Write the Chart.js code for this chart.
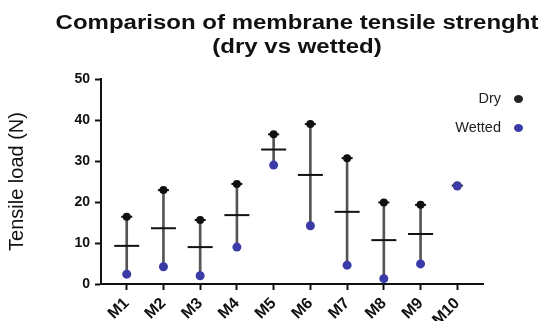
<!DOCTYPE html>
<html>
<head>
<meta charset="utf-8">
<script src="https://cdn.jsdelivr.net/npm/chart.js@4.4.1/dist/chart.umd.min.js"></script>
<style>
  html, body { margin: 0; padding: 0; background: #fff; }
  #wrap { position: relative; width: 542px; height: 321px; font-family: "Liberation Sans", Arial, sans-serif; }
  #title { position: absolute; left: 297px; top: 10px; transform: translateX(-50%) scaleX(1.2); white-space: nowrap;
           text-align: center; font-weight: bold; font-size: 20px; line-height: 24px; color: #111; }
  .leg { position: absolute; right: 19px; font-size: 14.5px; color: #222; white-space: nowrap; }
  .dot { display: inline-block; width: 9px; height: 8px; border-radius: 50%; margin-left: 13px; vertical-align: middle; }
</style>
</head>
<body>
<div id="wrap">
  <canvas id="myChart" width="542" height="321"></canvas>
  <div id="title">Comparison of membrane tensile strenght<br>(dry vs wetted)</div>
  <div class="leg" style="top:90px">Dry<span class="dot" style="background:#222"></span></div>
  <div class="leg" style="top:119px">Wetted<span class="dot" style="background:#3b3ba8"></span></div>
</div>
<script>
const labels = ["M1", "M2", "M3", "M4", "M5", "M6", "M7", "M8", "M9", "M10"];
const dry = [16.4, 22.9, 15.6, 24.4, 36.5, 39.0, 30.7, 19.9, 19.3, 24.0];
const wetted = [2.4, 4.2, 2.0, 9.0, 29.0, 14.2, 4.6, 1.3, 4.9, 23.9];
const mean = [9.3, 13.6, 9.0, 16.8, 32.8, 26.6, 17.6, 10.7, 12.2, null];
const yTicks = [0, 10, 20, 30, 40, 50];

const ctx = document.getElementById("myChart").getContext("2d");

const pts = arr => arr.map((v, i) => ({ x: i + 1, y: v }));
const ranges = labels.map((l, i) => mean[i] === null ? { x: i + 1, y: null } : { x: i + 1, y: [wetted[i], dry[i]] });

new Chart(ctx, {
    type: 'scatter',
    data: {
        datasets: [
            {
                label: 'Wetted',
                data: pts(wetted),
                pointStyle: 'circle',
                pointRadius: 4.5,
                backgroundColor: '#3b3ba8',
                borderColor: '#3b3ba8',
                borderWidth: 0,
                order: 1
            },
            {
                label: 'Dry',
                data: pts(dry),
                pointStyle: 'circle',
                pointRadius: 4,
                backgroundColor: '#111',
                borderColor: '#111',
                borderWidth: 0,
                order: 2
            },
            {
                // small cap line at the dry end of each range
                label: 'Dry cap',
                data: pts(dry),
                pointStyle: 'line',
                pointRadius: 5.5,
                borderColor: '#111',
                borderWidth: 2,
                order: 2
            },
            {
                label: 'Mean',
                data: pts(mean),
                pointStyle: 'line',
                pointRadius: 12.5,
                borderColor: '#111',
                borderWidth: 2,
                order: 3
            },
            {
                type: 'bar',
                label: 'Range',
                data: ranges,
                backgroundColor: '#555',
                barThickness: 2,
                order: 4
            }
        ]
    },
    options: {
        responsive: false,
        animation: false,
        layout: { padding: { top: 79, right: 59, bottom: 0, left: 0 } },
        plugins: {
            legend: { display: false },
            tooltip: { enabled: false }
        },
        scales: {
            x: {
                type: 'linear',
                min: 0.3,
                max: 10.7,
                offset: false,
                afterBuildTicks: s => { s.ticks = labels.map((l, i) => ({ value: i + 1 })); },
                afterFit: s => { s.height = 37; },
                grid: { offset: false, drawOnChartArea: false, tickLength: 6, tickWidth: 2, tickColor: '#111' },
                border: { color: '#111', width: 2 },
                ticks: {
                    autoSkip: false,
                    minRotation: 45,
                    maxRotation: 45,
                    padding: 4,
                    color: '#111',
                    font: { family: 'Liberation Sans', size: 16, weight: 'bold' },
                    callback: v => labels[v - 1]
                }
            },
            y: {
                min: 0,
                max: 50,
                afterBuildTicks: s => { s.ticks = yTicks.map(v => ({ value: v })); },
                afterFit: s => { s.width = 101; },
                grid: { drawOnChartArea: false, tickLength: 6, tickWidth: 2, tickColor: '#111' },
                border: { color: '#111', width: 2 },
                ticks: {
                    padding: 5,
                    color: '#111',
                    font: { family: 'Liberation Sans', size: 14, weight: 'bold' }
                },
                title: {
                    display: true,
                    text: 'Tensile load (N)',
                    color: '#111',
                    padding: { top: 5, bottom: 0 },
                    font: { family: 'Liberation Sans', size: 20 }
                }
            }
        }
    }
});
</script>
</body>
</html>
